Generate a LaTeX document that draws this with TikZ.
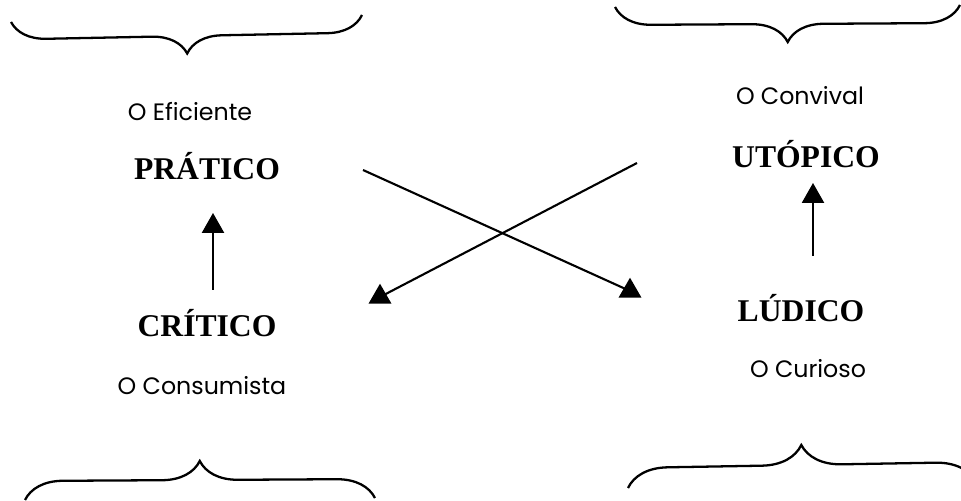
\documentclass[tikz,border=0pt]{standalone}
\usepackage{fontspec}
\setmainfont{Liberation Serif}
\newfontfamily\traitfont{Poppins}
\usetikzlibrary{positioning,arrows.meta,shapes.geometric,decorations.pathreplacing}

\begin{document}
\begin{tikzpicture}[
    category/.style={anchor=base, inner sep=0pt, font=\fontsize{18}{20}\selectfont\bfseries},
    trait/.style={anchor=base, inner sep=0pt, font=\fontsize{13.5}{16}\selectfont\traitfont},
    flow/.style={-{Triangle[width=12.5pt,length=11.3pt]}, line width=1.2pt},
    cross/.style={line width=1.2pt},
    tiphead/.style={regular polygon, regular polygon sides=3, fill, draw=none, inner sep=0pt, minimum size=0.53cm},
    bracket/.style={decorate, line width=1.3pt}
]
\clip (0,0) rectangle (19.22,10.02);

% Braces
\draw[bracket, decoration={brace, amplitude=0.7cm}] (7.24,9.72) -- (0.22,9.58);
\draw[bracket, decoration={brace, amplitude=0.72cm}] (19.20,9.92) -- (12.30,9.88);
\draw[bracket, decoration={brace, amplitude=0.76cm}] (0.50,0.02) -- (7.50,0.06);
\draw[bracket, decoration={brace, amplitude=0.8cm}] (12.56,0.26) -- (19.52,0.38);

% Left side
\node[trait] (eficiente) at (3.80,7.60) {O Eficiente};
\node[category] (pratico) at (4.14,6.42) {PRÁTICO};
\node[category] (critico) at (4.14,3.28) {CRÍTICO};
\node[trait] (consumista) at (4.04,2.12) {O Consumista};

% Right side
\node[trait] (convival) at (16.00,7.92) {O Convival};
\node[category] (utopico) at (16.12,6.66) {UTÓPICO};
\node[category] (ludico) at (16.02,3.58) {LÚDICO};
\node[trait] (curioso) at (16.16,2.46) {O Curioso};

% Vertical arrows
\coordinate (critico-up) at (4.26,4.22);
\coordinate (pratico-in) at (4.26,5.76);
\coordinate (ludico-up) at (16.26,4.90);
\coordinate (utopico-in) at (16.26,6.36);
\draw[flow] (critico-up) -- (pratico-in);
\draw[flow] (ludico-up) -- (utopico-in);

% Crossing arrows
\coordinate (pratico-out) at (7.26,6.62);
\coordinate (utopico-out) at (12.74,6.76);
\node[tiphead] (to-ludico) at (12.60,4.20) {};
\node[tiphead] (to-critico) at (7.60,4.08) {};
\draw[cross] (pratico-out) -- (to-ludico.center);
\draw[cross] (utopico-out) -- (to-critico.center);

\end{tikzpicture}
\end{document}
